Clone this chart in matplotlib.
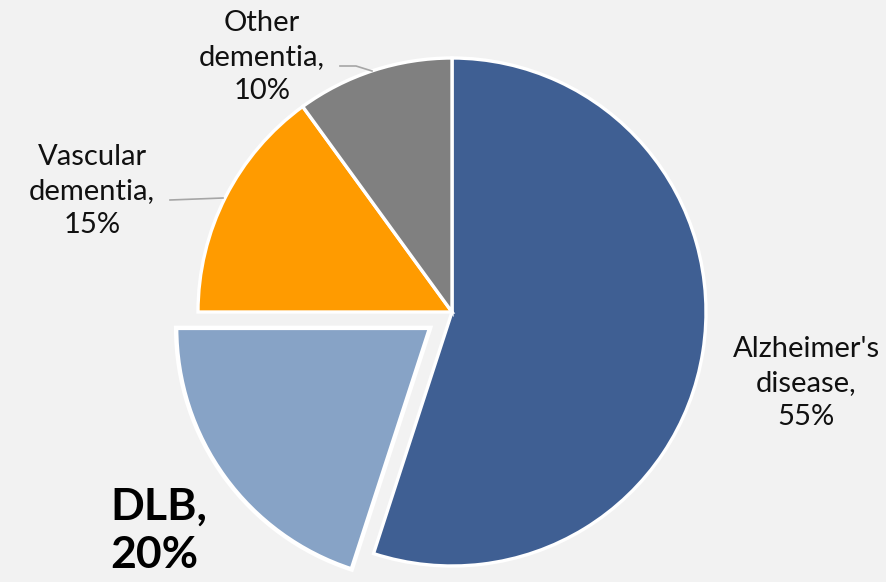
import matplotlib.pyplot as plt

# Share of dementia cases by type
categories = ["Alzheimer's\ndisease", "DLB", "Vascular\ndementia", "Other\ndementia"]
shares = [55, 20, 15, 10]
colors = ['#3F5F93', '#87A3C6', '#FF9B00', '#808080']

bg = '#F2F2F2'

fig = plt.figure(figsize=(8.87, 5.82), dpi=100, facecolor=bg)
ax = fig.add_axes([0, 0, 1, 1])
ax.set_facecolor(bg)

# work in pixel units so the pie sits where we want it
cx, cy, R = 452, 270, 254
wedges, _ = ax.pie(shares, colors=colors, startangle=90, counterclock=False,
                   center=(cx, cy), radius=R, explode=[0, 27, 0, 0],
                   wedgeprops=dict(edgecolor='white', linewidth=2.4))
wedges[1].set_linewidth(3.2)

font = 'Lato'
labels = [f"{c},\n{s}%" for c, s in zip(categories, shares)]
small = dict(ha='center', va='center', fontsize=21, family=font,
             fontweight='normal', color='#111111', linespacing=1.38)

ax.text(806, 199, labels[0], **small)   # Alzheimer's
ax.text(92, 391, labels[2], **small)    # Vascular
ax.text(262, 525, labels[3], **small)   # Other
# DLB, highlighted
ax.text(110, 51, labels[1], ha='left', va='center', fontsize=32,
        family=font, fontweight='bold', color='black', linespacing=1.25)

# leader lines
ax.plot([340, 356, 372], [516, 516, 511], color='#A6A6A6', lw=1.2)
ax.plot([170, 223], [382, 384], color='#A6A6A6', lw=1.2)

ax.set_xlim(0, 887)
ax.set_ylim(0, 582)
ax.set_aspect('equal')
ax.axis('off')

fig.savefig('out.png', dpi=100, facecolor=bg)
